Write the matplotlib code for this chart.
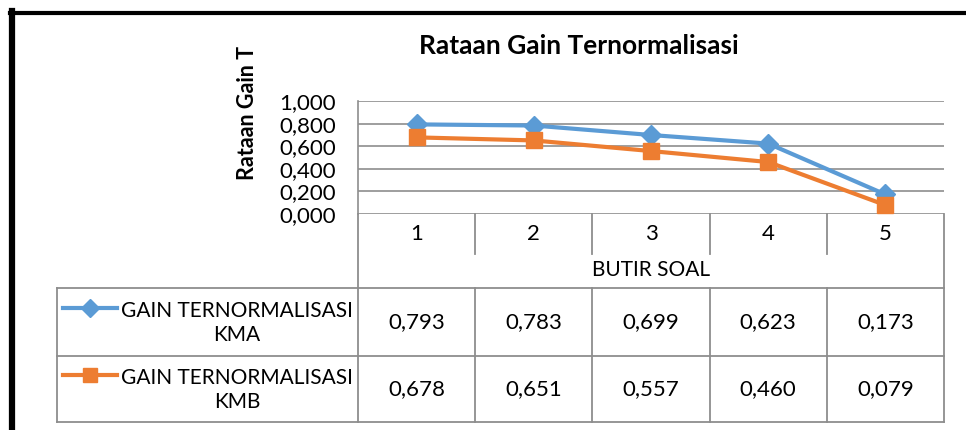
import matplotlib.pyplot as plt
from matplotlib.lines import Line2D

# data
butir = ['1', '2', '3', '4', '5']
kma = [0.793, 0.783, 0.699, 0.623, 0.173]
kmb = [0.678, 0.651, 0.557, 0.460, 0.079]
series_names = ['GAIN TERNORMALISASI\nKMA', 'GAIN TERNORMALISASI\nKMB']
yticks = [0.0, 0.2, 0.4, 0.6, 0.8, 1.0]

plt.rcParams['font.family'] = ['Lato', 'DejaVu Sans']

W, H = 966, 430
fig = plt.figure(figsize=(W / 100, H / 100), dpi=100)

def fx(x):
    return x / W

def fy(y):
    return 1 - y / H

blue = '#5B9BD5'
orange = '#ED7D31'
grid = '#8E8E8E'

# plot area in pixels
left, right, top, bottom = 358, 944, 101, 214
ax = fig.add_axes([fx(left), fy(bottom), fx(right - left), (bottom - top) / H])
x = list(range(len(butir)))
ax.plot(x, kma, color=blue, lw=3, marker='D', ms=10, zorder=3, clip_on=False)
ax.plot(x, kmb, color=orange, lw=3, marker='s', ms=11, zorder=3, clip_on=False)
ax.set_xlim(-0.5, len(butir) - 0.5)
ax.set_ylim(0, 1)
ax.set_yticks(yticks)
ax.set_yticklabels([f'{v:.3f}'.replace('.', ',') for v in yticks], fontsize=16)
ax.tick_params(axis='y', length=0, pad=16)
ax.set_xticks([])
for s in ['top', 'right', 'bottom']:
    ax.spines[s].set_visible(False)
ax.spines['left'].set_color(grid)
ax.spines['left'].set_linewidth(1.2)
ax.grid(axis='y', color=grid, lw=1.2)
ax.set_axisbelow(True)

def hline(y, x0, x1):
    fig.add_artist(Line2D([fx(x0), fx(x1)], [fy(y), fy(y)], color=grid, lw=1.3))

def vline(x0, y0, y1):
    fig.add_artist(Line2D([fx(x0), fx(x0)], [fy(y0), fy(y1)], color=grid, lw=1.3))

# data table under the plot
colw = (right - left) / len(butir)
cat_y, cat_end, r1, r2, tb = 214, 254, 288, 356, 422
vline(left, cat_y, tb)
vline(right, cat_y, tb)
for i in range(1, len(butir)):
    vline(left + i * colw, cat_y, cat_end)
    vline(left + i * colw, r1, tb)
for i, lab in enumerate(butir):
    fig.text(fx(left + (i + 0.5) * colw), fy(234), lab, ha='center', va='center', fontsize=16)
fig.text(fx((left + right) / 2), fy(270), 'BUTIR SOAL', ha='center', va='center', fontsize=15)

hline(r1, 57, right)
hline(r2, 57, right)
hline(tb, 57, right)
vline(57, r1, tb)

rows = [(r1, r2, kma, blue, 'D', 9), (r2, tb, kmb, orange, 's', 10)]
for (y0, y1, vals, col, mk, ms), name in zip(rows, series_names):
    yc = (y0 + y1) / 2
    fig.text(fx(237), fy(yc + 1), name, ha='center', va='center', fontsize=15, linespacing=1.25)
    fig.add_artist(Line2D([fx(63), fx(90), fx(117)], [fy(yc - 14)] * 3, color=col, lw=3,
                          marker=mk, ms=ms, markevery=[1], zorder=3))
    for i, v in enumerate(vals):
        fig.text(fx(left + (i + 0.5) * colw), fy(yc), f'{v:.3f}'.replace('.', ','),
                 ha='center', va='center', fontsize=16)

# titles
fig.text(fx(579), fy(46), 'Rataan Gain Ternormalisasi', ha='center', va='center',
         fontsize=19, fontweight='bold')
fig.text(fx(247), fy(113), 'Rataan Gain T', ha='center', va='center', rotation=90,
         fontsize=15.5, fontweight='bold')

# outer black frame (top and left edges visible)
fig.add_artist(Line2D([fx(10), fx(W)], [fy(12.5), fy(12.5)], color='black', lw=3))
fig.add_artist(Line2D([fx(12), fx(12)], [fy(11), fy(H)], color='black', lw=4.5))

fig.savefig('out.png', dpi=100)
